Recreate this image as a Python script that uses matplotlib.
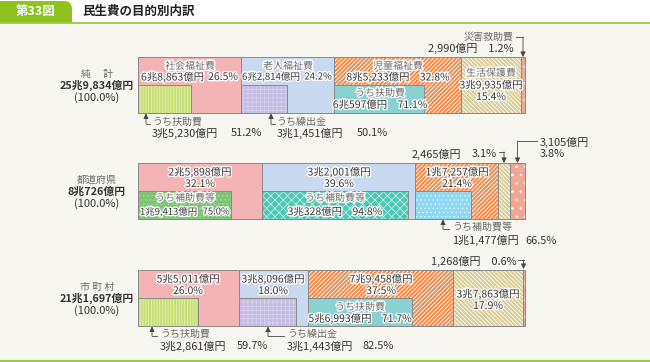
import matplotlib
matplotlib.use("Agg")
import matplotlib.pyplot as plt
import matplotlib.patheffects as pe
from matplotlib.patches import Rectangle, FancyBboxPatch

plt.rcParams['font.family'] = ['Noto Sans CJK JP', 'DejaVu Sans']
plt.rcParams['hatch.linewidth'] = 0.6

# data (percent of each row, percent of segment for the "うち" items)
categories = ['社会福祉費', '老人福祉費', '児童福祉費', '生活保護費', '災害救助費']
row_names = ['純　 計', '都道府県', '市 町 村']
row_totals = ['25兆9,834億円', '8兆726億円', '21兆1,697億円']
shares = [
    [26.5, 24.2, 32.8, 15.4, 1.2],
    [32.1, 39.6, 21.4, 3.1, 3.8],
    [26.0, 18.0, 37.5, 17.9, 0.6],
]
amounts = [
    ['6兆8,863億円', '6兆2,814億円', '8兆5,233億円', '3兆9,935億円', '2,990億円'],
    ['2兆5,898億円', '3兆2,001億円', '1兆7,257億円', '2,465億円', '3,105億円'],
    ['5兆5,011億円', '3兆8,096億円', '7兆9,458億円', '3兆7,863億円', '1,268億円'],
]
sub_names = [
    ['うち扶助費', 'うち繰出金', 'うち扶助費'],
    ['うち補助費等', 'うち補助費等', 'うち補助費等'],
    ['うち扶助費', 'うち繰出金', 'うち扶助費'],
]
sub_shares = [
    [51.2, 50.1, 71.1],
    [75.0, 94.8, 66.5],
    [59.7, 82.5, 71.7],
]
sub_amounts = [
    ['3兆5,230億円', '3兆1,451億円', '6兆597億円'],
    ['1兆9,413億円', '3兆328億円', '1兆1,477億円'],
    ['3兆2,861億円', '3兆1,443億円', '5兆6,993億円'],
]

# styles
seg_colors = ['#f4b4b5', '#c9d9f0', '#f28c4c', '#d9cd98', '#f4a594']
seg_hatch = [None, None, '////////', '\\\\\\\\\\\\\\\\', '..']
sub_style = [
    [('#c6df72', '||||||', '#e4efb4'), ('#c2bce2', '++++', '#d6d2ee'), ('#8ad2d1', None, None)],
    [('#7dc574', '....', '#a6d8a0'), ('#4ec7b5', 'xxxx', '#bff0e6'), ('#8fd8f3', '....', '#d8f3fc')],
    [('#c6df72', '||||||', '#e4efb4'), ('#c2bce2', '++++', '#d6d2ee'), ('#8ad2d1', None, None)],
]
row_y = [85, 191, 297.5]
bar_h = 56
edge = '#8a8a8a'

W, H = 650, 362
fig = plt.figure(figsize=(W / 100, H / 100), dpi=100)
fig.patch.set_facecolor('#f7f6f1')

# bars axes: x in percent, y in pixels
ax = fig.add_axes([0, 0, 1, 1])
ax.set_xlim(-138 / 3.87, (W - 138) / 3.87)
ax.set_ylim(H, 0)
ax.axis('off')

for r in range(3):
    left = 0
    lefts = []
    for i, v in enumerate(shares[r]):
        lefts.append(left)
        ax.barh(row_y[r], v, left=left, height=bar_h, color=seg_colors[i],
                edgecolor=edge, linewidth=0.7, zorder=2)
        if seg_hatch[i]:
            ax.barh(row_y[r], v, left=left, height=bar_h, color='none',
                    edgecolor='white', hatch=seg_hatch[i], linewidth=0, zorder=3)
            ax.barh(row_y[r], v, left=left, height=bar_h, color='none',
                    edgecolor=edge, linewidth=0.7, zorder=4)
        left += v
    for j, s in enumerate(sub_shares[r]):
        w = shares[r][j] * s / 100
        fc, hatch, hc = sub_style[r][j]
        ax.barh(row_y[r] + bar_h / 4, w, left=lefts[j], height=bar_h / 2,
                color=fc, edgecolor=edge, linewidth=0.7, zorder=5)
        if hatch:
            ax.barh(row_y[r] + bar_h / 4, w, left=lefts[j], height=bar_h / 2,
                    color='none', edgecolor=hc, hatch=hatch, linewidth=0, zorder=6)
            ax.barh(row_y[r] + bar_h / 4, w, left=lefts[j], height=bar_h / 2,
                    color='none', edgecolor=edge, linewidth=0.7, zorder=7)

# text/overlay axes in pixels
pa = fig.add_axes([0, 0, 1, 1])
pa.set_xlim(0, W)
pa.set_ylim(H, 0)
pa.axis('off')
pa.patch.set_alpha(0)

# header
pa.add_patch(Rectangle((0, 0), W, 22.5, color='white', zorder=0))
pa.add_patch(FancyBboxPatch((-12, 1), 84, 14, boxstyle='round,pad=0,rounding_size=8',
                            color='#8dc21f', lw=0, zorder=1))
pa.add_patch(Rectangle((-12, 8), 84, 15, color='#8dc21f', lw=0, zorder=1))
pa.plot([0, W], [22.5, 22.5], color='#9ccc3c', lw=1.3, zorder=1)
pa.text(36, 11.5, '第33図', color='white', fontsize=9, fontweight='bold',
        ha='center', va='center', zorder=2)
pa.text(82, 11.5, '民生費の目的別内訳', color='#222', fontsize=9, fontweight='bold',
        ha='left', va='center')
pa.plot([0, W], [360.5, 360.5], color='#9ccc3c', lw=2.2)

halo = [pe.withStroke(linewidth=2, foreground='white')]
dark = '#333333'
grey = '#6a6a6a'


def num(x, y, s, ha='center', fs=7.5, halo_on=True):
    pa.text(x, y, s, fontsize=fs, color=dark, ha=ha, va='center', zorder=10,
            path_effects=halo if halo_on else None)


def name(x, y, s, ha='center', fs=7.2, halo_on=True):
    pa.text(x, y, s, fontsize=fs, color=grey, ha=ha, va='center', zorder=10,
            path_effects=halo if halo_on else None)


def pointer(xs, ys):
    pa.plot(xs[:-1], ys[:-1], color='#444', lw=0.6, zorder=9)
    pa.annotate('', xy=(xs[-1], ys[-1]), xytext=(xs[-2], ys[-2]),
                arrowprops=dict(arrowstyle='-|>,head_length=0.3,head_width=0.15',
                                color='#444', lw=0.6, shrinkA=0, shrinkB=0), zorder=9)


# row labels
for r, yy in enumerate([74, 180, 287]):
    name(97, yy, row_names[r], halo_on=False)
    pa.text(97, yy + 11.5, row_totals[r], fontsize=7.8, color=dark, ha='center',
            va='center', fontweight='bold')
    pa.text(97, yy + 23.5, '(100.0%)', fontsize=8, color=dark, ha='center', va='center')

spct = [['%.1f%%' % v for v in row] for row in sub_shares]
ofs = 7.9  # outside number size

# row 1
name(190, 66, categories[0])
num(141, 77, amounts[0][0], ha='left')
num(238, 77, '%.1f%%' % shares[0][0], ha='right')
name(288, 66, categories[1])
num(242, 77, amounts[0][1], ha='left', fs=6.9)
num(332, 77, '%.1f%%' % shares[0][1], ha='right', fs=6.9)
name(398, 66, categories[2])
num(398, 77, amounts[0][2] + '　%.1f%%' % shares[0][2])
name(491, 73, categories[3])
num(491, 85, amounts[0][3])
num(491, 97, '%.1f%%' % shares[0][3])
name(380, 93, sub_names[0][2])
num(380, 105, sub_amounts[0][2] + '　' + spct[0][2])
name(514, 37, categories[4], ha='right', halo_on=False)
num(514, 48.5, amounts[0][4] + '　%.1f%%' % shares[0][4], ha='right', halo_on=False, fs=ofs)
pointer([516, 523, 523], [37, 37, 57])
pointer([150, 146, 146], [124, 124, 113.5])
name(152, 122, sub_names[0][0], ha='left', halo_on=False)
num(152, 133.5, sub_amounts[0][0], ha='left', halo_on=False, fs=ofs)
num(262, 133.5, spct[0][0], ha='right', halo_on=False, fs=ofs)
pointer([275, 271, 271], [124, 124, 113.5])
name(276, 122, sub_names[0][1], ha='left', halo_on=False)
num(277, 133.5, sub_amounts[0][1], ha='left', halo_on=False, fs=ofs)
num(372, 133.5, spct[0][1], halo_on=False, fs=ofs)

# row 2
num(200, 172, amounts[1][0])
num(200, 184, '%.1f%%' % shares[1][0])
num(339, 172, amounts[1][1])
num(339, 184, '%.1f%%' % shares[1][1])
num(457, 172, amounts[1][2])
num(457, 184, '%.1f%%' % shares[1][2])
name(185, 198, sub_names[1][0])
num(140, 212, sub_amounts[1][0], ha='left', fs=6.8)
num(230, 212, spct[1][0], ha='right', fs=6.8)
name(335, 198, sub_names[1][1])
num(335, 212, sub_amounts[1][1] + '　' + spct[1][1])
num(412, 154, amounts[1][3], ha='left', halo_on=False, fs=ofs)
num(497, 154, '%.1f%%' % shares[1][3], ha='right', halo_on=False, fs=ofs)
pointer([499, 504, 504], [152, 152, 163])
num(540, 142, amounts[1][4], ha='left', halo_on=False, fs=ofs)
num(540, 154, '%.1f%%' % shares[1][4], ha='left', halo_on=False, fs=ofs)
pointer([537, 517.5, 517.5], [141, 141, 163])
pointer([449, 443, 443], [229, 229, 219.5])
name(452, 227, sub_names[1][2], ha='left', halo_on=False)
num(452, 240.5, sub_amounts[1][2], ha='left', halo_on=False, fs=ofs)
num(541, 240.5, spct[1][2], halo_on=False, fs=ofs)

# row 3
num(188, 279, amounts[2][0])
num(188, 291, '%.1f%%' % shares[2][0])
num(273, 279, amounts[2][1])
num(273, 291, '%.1f%%' % shares[2][1])
num(381, 279, amounts[2][2])
num(381, 291, '%.1f%%' % shares[2][2])
name(360, 307, sub_names[2][2])
num(360, 318.5, sub_amounts[2][2] + '　' + spct[2][2])
num(488, 294, amounts[2][3])
num(488, 306, '%.1f%%' % shares[2][3])
num(517, 261, amounts[2][4] + '　%.1f%%' % shares[2][4], ha='right', halo_on=False, fs=ofs)
pointer([518, 523.5, 523.5], [260, 260, 269])
pointer([157, 152, 152], [336, 336, 326.5])
name(160, 334, sub_names[2][0], ha='left', halo_on=False)
num(160, 346, sub_amounts[2][0], ha='left', halo_on=False, fs=ofs)
num(237, 346, spct[2][0], ha='left', halo_on=False, fs=ofs)
pointer([284, 268, 268], [336, 336, 326.5])
name(287, 334, sub_names[2][1], ha='left', halo_on=False)
num(287, 346, sub_amounts[2][1], ha='left', halo_on=False, fs=ofs)
num(378, 346, spct[2][1], halo_on=False, fs=ofs)

fig.savefig('out.png', dpi=100, facecolor=fig.get_facecolor())
